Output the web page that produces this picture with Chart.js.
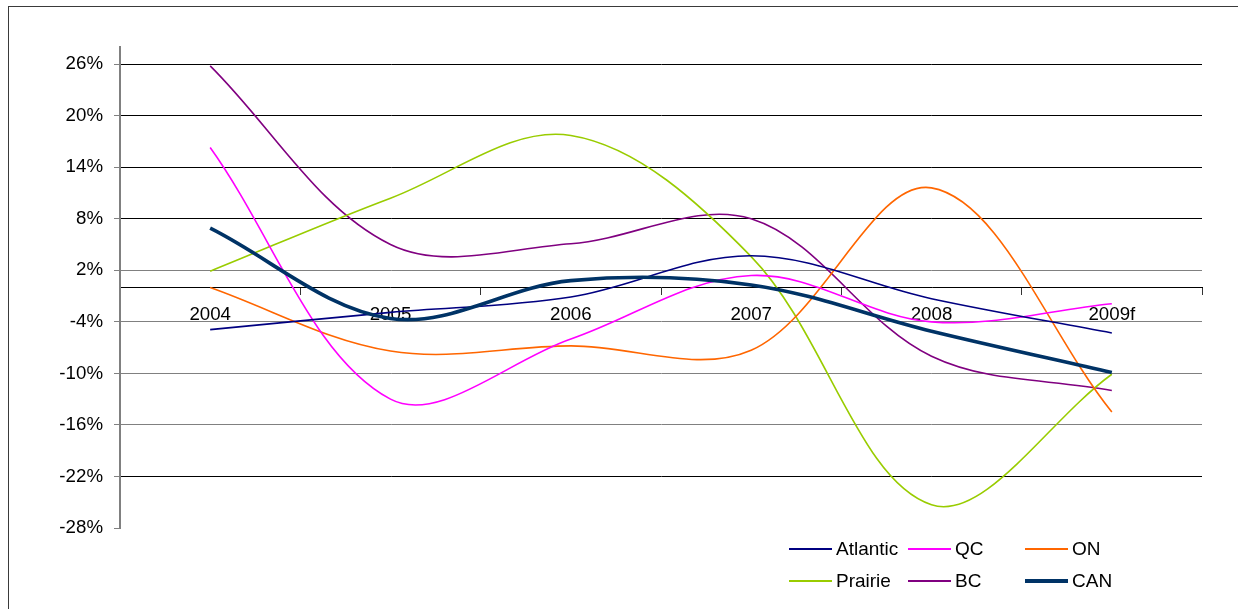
<!DOCTYPE html>
<html>
<head>
<meta charset="utf-8">
<title>Regional growth, 2004–2009f</title>
<script src="https://cdn.jsdelivr.net/npm/chart.js@4/dist/chart.umd.min.js"></script>
<style>
  html, body { margin: 0; padding: 0; background: #fff; overflow: hidden; }
  #wrap { position: relative; width: 1238px; height: 609px; overflow: hidden; }
  #frame {
    position: absolute; left: 8px; top: 6px; width: 1400px; height: 800px;
    border-left: 1.5px solid #3a3a3a; border-top: 1.5px solid #3a3a3a;
    box-sizing: border-box; pointer-events: none;
  }
  #chart { position: absolute; left: 0; top: 0; }
  #legend {
    position: absolute; left: 789px; top: 533px;
    font: 19px "Liberation Sans", Arial, sans-serif; color: #000;
  }
  .item { position: absolute; display: flex; align-items: center; height: 32px; white-space: nowrap; }
  .sw { width: 43px; margin-right: 4px; }
</style>
</head>
<body>
<div id="wrap">
  <canvas id="chart" width="1238" height="609"></canvas>
  <div id="frame"></div>
  <div id="legend"></div>
</div>
<script>
// Years on the category axis
const years = ['2004', '2005', '2006', '2007', '2008', '2009f'];

// Annual growth by region, in percent
const atlantic = [-4.9, -2.9, -1.1, 3.7, -1.3, -5.3];
const qc       = [16.3, -13.0, -6.0, 1.4, -4.0, -1.9];
const on       = [0.0, -7.4, -6.8, -7.3, 11.6, -14.5];
const prairie  = [1.9, 10.4, 17.7, 3.6, -25.3, -10.1];
const bc       = [25.8, 5.0, 5.1, 8.0, -8.0, -12.0];
const can      = [6.9, -3.6, 0.8, 0.3, -5.1, -9.9];

// Value axis tick labels
const yTicks = [26, 20, 14, 8, 2, -4, -10, -16, -22, -28];

const FONT = '"Liberation Sans", Arial, sans-serif';

const series = [
  { label: 'Atlantic', data: atlantic, color: '#000080', width: 1.6 },
  { label: 'QC',       data: qc,       color: '#FF00FF', width: 1.6 },
  { label: 'ON',       data: on,       color: '#FF6600', width: 1.6 },
  { label: 'Prairie',  data: prairie,  color: '#99CC00', width: 1.6 },
  { label: 'BC',       data: bc,       color: '#800080', width: 1.6 },
  { label: 'CAN',      data: can,      color: '#003366', width: 3.6 }
];

const darkLines = [26, 20, 14, 8, -22];

new Chart(document.getElementById('chart'), {
  type: 'line',
  data: {
    labels: years,
    datasets: series.map((s, i) => ({
      label: s.label,
      data: s.data,
      borderColor: s.color,
      backgroundColor: s.color,
      borderWidth: s.width,
      pointRadius: 0,
      pointHoverRadius: 0,
      tension: 0.35,
      fill: false,
      order: s.label === 'CAN' ? -1 : i
    }))
  },
  options: {
    responsive: false,
    animation: false,
    events: [],
    layout: { padding: { left: 0, right: 36, top: 47, bottom: 81 } },
    plugins: { legend: { display: false }, tooltip: { enabled: false } },
    scales: {
      x: {
        type: 'category',
        position: { y: 0 },
        offset: true,
        z: 1,
        grid: {
          offset: true,
          drawOnChartArea: false,
          drawTicks: true,
          tickLength: 7,
          color: '#333',
          lineWidth: 1
        },
        border: { display: true, color: '#000', width: 1 },
        ticks: {
          color: '#000',
          font: { family: FONT, size: 18.7 },
          padding: 9,
          maxRotation: 0,
          autoSkip: false
        }
      },
      y: {
        min: -28,
        max: 28,
        afterBuildTicks: (scale) => { scale.ticks = yTicks.map(v => ({ value: v })); },
        afterFit: (scale) => { scale.width = 120; },
        grid: {
          color: (ctx) => {
            const v = ctx.tick ? ctx.tick.value : null;
            if (v === -28) return 'rgba(0,0,0,0)';
            return darkLines.includes(v) ? '#000' : '#808080';
          },
          tickColor: '#808080',
          tickLength: 6,
          lineWidth: 1
        },
        border: { color: '#808080', width: 2 },
        ticks: {
          color: '#000',
          font: { family: FONT, size: 18.7 },
          padding: 11,
          callback: (v) => v + '%'
        }
      }
    }
  }
});

// Two-row legend in three columns
const legend = document.getElementById('legend');
const colLeft = [0, 119, 236];
series.forEach((s, i) => {
  const item = document.createElement('div');
  item.className = 'item';
  item.style.left = colLeft[i % 3] + 'px';
  item.style.top = (Math.floor(i / 3) * 32) + 'px';
  const sw = document.createElement('div');
  sw.className = 'sw';
  sw.style.height = (s.width >= 3 ? 3.4 : 1.6) + 'px';
  sw.style.background = s.color;
  const tx = document.createElement('span');
  tx.textContent = s.label;
  item.appendChild(sw);
  item.appendChild(tx);
  legend.appendChild(item);
});
</script>
</body>
</html>
